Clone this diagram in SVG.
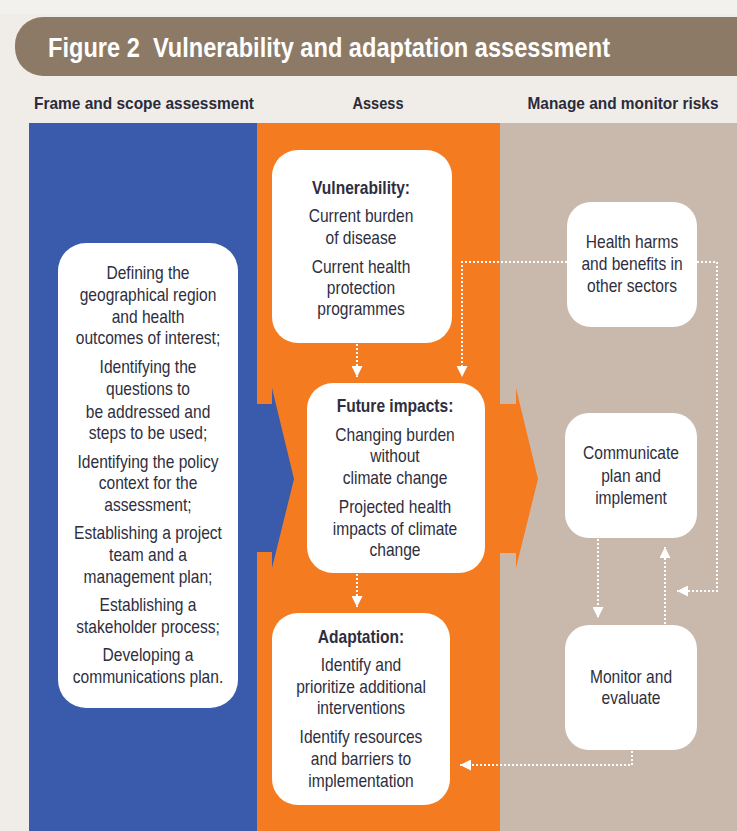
<svg xmlns="http://www.w3.org/2000/svg" width="737" height="831" viewBox="0 0 737 831">
<defs>
<style>
.bg{fill:#f0ede8}
.band{fill:#8c7a66}
.title{font-family:"Liberation Sans",Arial,sans-serif;font-weight:bold;font-size:28px;fill:#ffffff;white-space:pre}
.hdr{font-family:"Liberation Sans",Arial,sans-serif;font-weight:bold;font-size:17px;fill:#2b2b3b;text-anchor:middle}
.box{fill:#ffffff}
.t{font-family:"Liberation Sans",Arial,sans-serif;font-size:17.5px;fill:#2e2e40;text-anchor:middle}
.b{font-weight:bold}
.conn{fill:none;stroke:#ffffff;stroke-width:2;stroke-dasharray:2 2}
</style>
<marker id="ah" viewBox="0 0 10 10" refX="10" refY="5" markerWidth="11" markerHeight="11" markerUnits="userSpaceOnUse" orient="auto">
<path d="M0,0 L10,5 L0,10 z" fill="#ffffff"/>
</marker>
</defs>

<rect class="bg" x="0" y="0" width="737" height="831"/>
<rect x="0" y="0" width="737" height="14" fill="#f3f1ee"/>

<g id="title">
<rect class="band" x="15" y="17" width="760" height="59" rx="28" ry="28"/>
<text class="title" x="48" y="57" xml:space="preserve" textLength="562" lengthAdjust="spacingAndGlyphs">Figure 2  Vulnerability and adaptation assessment</text>
</g>

<g id="headers">
<text class="hdr" x="144" y="109" textLength="220" lengthAdjust="spacingAndGlyphs">Frame and scope assessment</text>
<text class="hdr" x="378" y="109" textLength="51" lengthAdjust="spacingAndGlyphs">Assess</text>
<text class="hdr" x="623" y="109" textLength="191" lengthAdjust="spacingAndGlyphs">Manage and monitor risks</text>
</g>

<g id="columns">
<rect x="29" y="123" width="229" height="708" fill="#3a5bab"/>
<rect x="257" y="123" width="244" height="708" fill="#f57b20"/>
<rect x="500" y="123" width="237" height="708" fill="#c8b9ac"/>
<polygon points="257,404 272,404 272,388 294,479 272,568 272,552 257,552" fill="#3a5bab"/>
<polygon points="500,404 516,404 516,388 538,479 516,568 516,553 500,553" fill="#f57b20"/>
</g>

<g id="frame-scope">
<rect class="box" x="58" y="243" width="180" height="465" rx="28" ry="28"/>
<g transform="translate(148,0) scale(0.89,1)">
<text class="t" x="0" y="279">Defining the</text>
<text class="t" x="0" y="301">geographical region</text>
<text class="t" x="0" y="323">and health</text>
<text class="t" x="0" y="344">outcomes of interest;</text>
<text class="t" x="0" y="373">Identifying the</text>
<text class="t" x="0" y="395">questions to</text>
<text class="t" x="0" y="418">be addressed and</text>
<text class="t" x="0" y="439">steps to be used;</text>
<text class="t" x="0" y="468">Identifying the policy</text>
<text class="t" x="0" y="489">context for the</text>
<text class="t" x="0" y="511">assessment;</text>
<text class="t" x="0" y="539">Establishing a project</text>
<text class="t" x="0" y="561">team and a</text>
<text class="t" x="0" y="583">management plan;</text>
<text class="t" x="0" y="611">Establishing a</text>
<text class="t" x="0" y="633">stakeholder process;</text>
<text class="t" x="0" y="661">Developing a</text>
<text class="t" x="0" y="683">communications plan.</text>
</g>
</g>

<g id="vulnerability">
<rect class="box" x="272" y="150" width="180" height="193" rx="26" ry="26"/>
<g transform="translate(361,0) scale(0.89,1)">
<text class="t b" x="0" y="194">Vulnerability:</text>
<text class="t" x="0" y="222">Current burden</text>
<text class="t" x="0" y="244">of disease</text>
<text class="t" x="0" y="273">Current health</text>
<text class="t" x="0" y="294">protection</text>
<text class="t" x="0" y="315">programmes</text>
</g>
</g>

<g id="future-impacts">
<rect class="box" x="307" y="383" width="178" height="190" rx="26" ry="26"/>
<g transform="translate(395,0) scale(0.89,1)">
<text class="t b" x="0" y="412">Future impacts:</text>
<text class="t" x="0" y="441">Changing burden</text>
<text class="t" x="0" y="462">without</text>
<text class="t" x="0" y="484">climate change</text>
<text class="t" x="0" y="513">Projected health</text>
<text class="t" x="0" y="535">impacts of climate</text>
<text class="t" x="0" y="556">change</text>
</g>
</g>

<g id="adaptation">
<rect class="box" x="272" y="613" width="178" height="192" rx="26" ry="26"/>
<g transform="translate(361,0) scale(0.89,1)">
<text class="t b" x="0" y="643">Adaptation:</text>
<text class="t" x="0" y="671">Identify and</text>
<text class="t" x="0" y="693">prioritize additional</text>
<text class="t" x="0" y="714">interventions</text>
<text class="t" x="0" y="743">Identify resources</text>
<text class="t" x="0" y="765">and barriers to</text>
<text class="t" x="0" y="787">implementation</text>
</g>
</g>

<g id="health-harms">
<rect class="box" x="567" y="202" width="130" height="125" rx="24" ry="24"/>
<g transform="translate(632,0) scale(0.89,1)">
<text class="t" x="0" y="248">Health harms</text>
<text class="t" x="0" y="270">and benefits in</text>
<text class="t" x="0" y="292">other sectors</text>
</g>
</g>

<g id="communicate">
<rect class="box" x="565" y="413" width="132" height="125" rx="24" ry="24"/>
<g transform="translate(631,0) scale(0.89,1)">
<text class="t" x="0" y="459">Communicate</text>
<text class="t" x="0" y="482">plan and</text>
<text class="t" x="0" y="504">implement</text>
</g>
</g>

<g id="monitor">
<rect class="box" x="565" y="625" width="132" height="125" rx="24" ry="24"/>
<g transform="translate(631,0) scale(0.89,1)">
<text class="t" x="0" y="683">Monitor and</text>
<text class="t" x="0" y="704">evaluate</text>
</g>
</g>

<g id="connectors">
<path class="conn" d="M357,344 L357,377" marker-end="url(#ah)"/>
<path class="conn" d="M567,262 L462,262 L462,377" marker-end="url(#ah)"/>
<path class="conn" d="M697,262 L717,262 L717,591 L677,591" marker-end="url(#ah)"/>
<path class="conn" d="M357,574 L357,607" marker-end="url(#ah)"/>
<path class="conn" d="M598,539 L598,618" marker-end="url(#ah)"/>
<path class="conn" d="M665,624 L665,547" marker-end="url(#ah)"/>
<path class="conn" d="M632,751 L632,765 L460,765" marker-end="url(#ah)"/>
</g>
</svg>
